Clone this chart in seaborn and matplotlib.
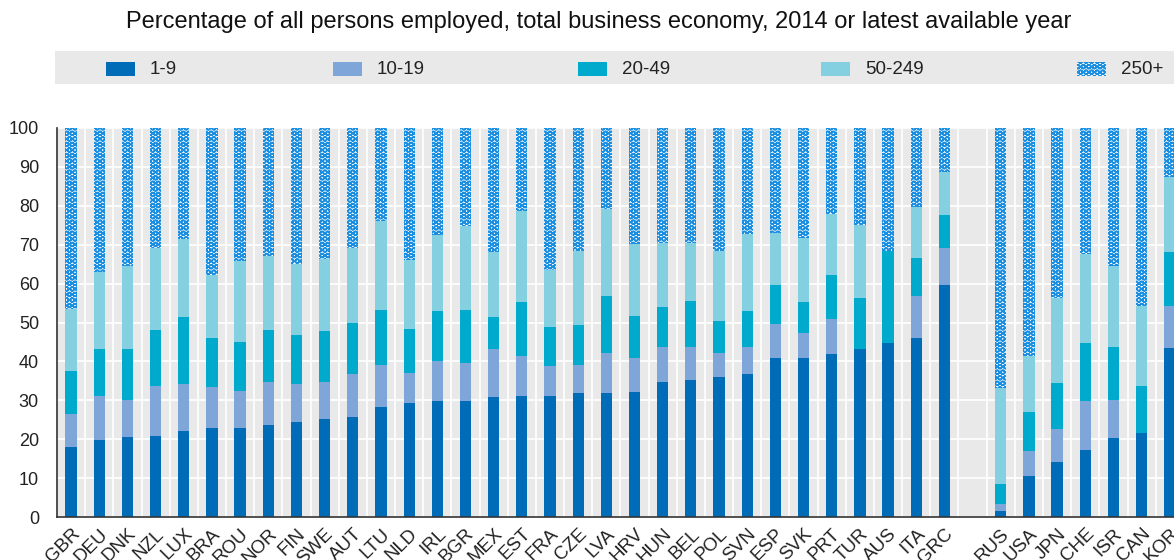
import numpy as np
import pandas as pd
import matplotlib
matplotlib.use("Agg")
import matplotlib.pyplot as plt
from matplotlib.patches import Rectangle
import seaborn as sns

# countries, left group sorted by 1-9 share, right group shown apart
left_countries = ["GBR", "DEU", "DNK", "NZL", "LUX", "BRA", "ROU", "NOR", "FIN", "SWE",
                  "AUT", "LTU", "NLD", "IRL", "BGR", "MEX", "EST", "FRA", "CZE", "LVA",
                  "HRV", "HUN", "BEL", "POL", "SVN", "ESP", "SVK", "PRT", "TUR", "AUS",
                  "ITA", "GRC"]
right_countries = ["RUS", "USA", "JPN", "CHE", "ISR", "CAN", "KOR"]
countries = left_countries + right_countries

size_classes = ["1-9", "10-19", "20-49", "50-249", "250+"]

# share of persons employed (%) by firm size class
s_1_9 = [18.0, 19.9, 20.6, 20.9, 22.0, 22.9, 22.9, 23.6, 24.5, 25.2,
         25.6, 28.2, 29.2, 29.9, 29.9, 30.9, 31.2, 31.2, 31.8, 31.8,
         32.2, 34.8, 35.2, 36.1, 36.7, 40.8, 41.0, 41.8, 43.3, 44.7,
         46.0, 59.6,
         1.5, 10.5, 14.1, 17.3, 20.3, 21.6, 43.4]
s_10_19 = [8.6, 11.3, 9.6, 12.9, 12.3, 10.6, 9.5, 11.2, 9.8, 9.6,
           11.1, 10.9, 7.9, 10.2, 9.8, 12.4, 10.2, 7.6, 7.3, 10.3,
           8.8, 8.9, 8.5, 6.0, 7.0, 8.8, 6.4, 9.2, 0.0, 0.0,
           10.9, 9.6,
           1.9, 6.5, 8.5, 12.6, 9.9, 0.0, 10.8]
s_20_49 = [10.9, 12.1, 13.1, 14.3, 17.0, 12.4, 12.7, 13.3, 12.4, 12.9,
           13.3, 14.1, 11.2, 12.9, 13.5, 8.0, 13.9, 10.1, 10.3, 14.6,
           10.7, 10.3, 11.9, 8.3, 9.3, 10.0, 7.9, 11.2, 12.9, 23.7,
           9.6, 8.5,
           5.0, 9.9, 11.9, 14.8, 13.5, 12.2, 14.0]
s_50_249 = [15.9, 19.8, 21.1, 21.0, 20.1, 16.3, 20.6, 19.1, 18.3, 18.6,
            19.1, 22.8, 17.8, 19.4, 21.5, 16.7, 23.4, 14.6, 19.0, 22.6,
            18.5, 16.4, 14.8, 18.0, 19.8, 13.5, 16.3, 15.7, 18.9, 0.0,
            13.1, 11.0,
            24.8, 14.5, 21.7, 22.9, 20.9, 20.4, 19.1]
s_250 = [46.6, 36.9, 35.6, 30.9, 28.6, 37.8, 34.3, 32.8, 35.0, 33.7,
         30.9, 24.0, 33.9, 27.6, 25.3, 32.0, 21.3, 36.5, 31.6, 20.7,
         29.8, 29.6, 29.6, 31.6, 27.2, 26.9, 28.4, 22.1, 24.9, 31.6,
         20.4, 11.3,
         66.8, 58.6, 43.8, 32.4, 35.4, 45.8, 12.7]

colors = ["#006bb6", "#7fa6d8", "#00aacc", "#84d0e0", "white"]
hatch_color = "#1a8ee0"
bg = "#e9e9e9"

df = pd.DataFrame({"country": countries, "1-9": s_1_9, "10-19": s_10_19,
                   "20-49": s_20_49, "50-249": s_50_249, "250+": s_250})
# cumulative tops, drawn from the top layer down so lower layers cover upper ones
cum = df[size_classes].cumsum(axis=1)
cum["country"] = df["country"]

order = left_countries + [" "] + right_countries

sns.set_style("white")
plt.rcParams["font.family"] = ["Liberation Sans", "DejaVu Sans"]
plt.rcParams["hatch.linewidth"] = 1.15

fig = plt.figure(figsize=(11.74, 5.6), dpi=100)
ax = fig.add_axes([57 / 1174, 1 - 517 / 560, 1 - 57 / 1174, (517 - 128) / 560])
ax.set_facecolor(bg)

for i in range(len(size_classes) - 1, -1, -1):
    cls = size_classes[i]
    n_before = len(ax.patches)
    sns.barplot(data=cum, x="country", y=cls, order=order, color=colors[i],
                saturation=1, width=0.4, errorbar=None, linewidth=0, ax=ax)
    if cls == "250+":
        for p in ax.patches[n_before:]:
            p.set_facecolor("white")
            p.set_edgecolor(hatch_color)
            p.set_hatch("OOO")
            p.set_linewidth(0)

ax.set_ylim(0, 100)
ax.set_xlim(-0.5, len(order) - 1 + 0.15)
ax.set_yticks(np.arange(0, 101, 10))
ax.set_xticks(range(len(order)))
ax.set_xticklabels(order, rotation=45, ha="right", rotation_mode="anchor")
ax.set_xticks(np.arange(0.5, len(order) - 1, 1), minor=True)
ax.tick_params(axis="x", which="major", length=0, pad=6, labelsize=13.5, colors="#222222")
ax.tick_params(axis="x", which="minor", length=5, width=1, color="#333333", direction="out")
ax.tick_params(axis="y", length=5, width=1, color="#333333", direction="out",
               pad=8, labelsize=13, labelcolor="#222222")
ax.grid(True, axis="y", color="white", linewidth=1.2)
ax.grid(True, axis="x", which="minor", color="white", linewidth=1.2)
ax.set_axisbelow(True)
ax.set_xlabel("")
ax.set_ylabel("")
for side in ["top", "right"]:
    ax.spines[side].set_visible(False)
ax.spines["left"].set_color("#333333")
ax.spines["bottom"].set_color("#333333")
ax.spines["left"].set_linewidth(1.2)
ax.spines["bottom"].set_linewidth(1.2)

fig.text(599 / 1174, 1 - 22 / 560,
         "Percentage of all persons employed, total business economy, 2014 or latest available year",
         ha="center", va="center", fontsize=17, color="#111111")

# legend band
fig.add_artist(Rectangle((55 / 1174, 1 - 84 / 560), 1 - 55 / 1174, 33 / 560,
                         transform=fig.transFigure, facecolor=bg, edgecolor="none"))
swatch_x = [106, 333, 578, 821, 1077]
for i, cls in enumerate(size_classes):
    x0 = swatch_x[i] / 1174
    r = Rectangle((x0, 1 - 76 / 560), 29 / 1174, 14 / 560, transform=fig.transFigure,
                  facecolor=colors[i], edgecolor="none", linewidth=0)
    if cls == "250+":
        r.set_edgecolor(hatch_color)
        r.set_hatch("OOO")
    fig.add_artist(r)
    fig.text(x0 + 44 / 1174, 1 - 69 / 560, cls, ha="left", va="center",
             fontsize=13.5, color="#222222")

fig.savefig("out.png", dpi=100)
